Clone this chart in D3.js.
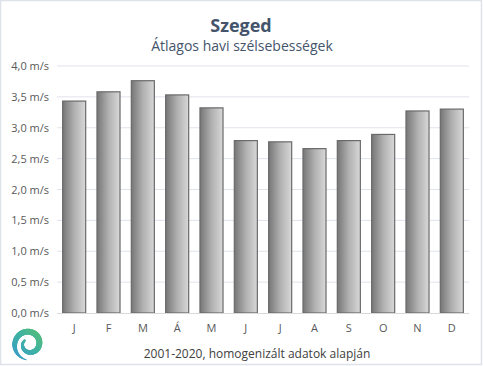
<!DOCTYPE html>
<html><head><meta charset="utf-8">
<script src="https://cdn.jsdelivr.net/npm/d3@7"></script>
<style>
html,body{margin:0;padding:0;background:#fff;}
svg{display:block;}
text{font-family:"Open Sans","DejaVu Sans",sans-serif;}
</style></head>
<body>
<script>
const months = ["J","F","M","Á","M","J","J","A","S","O","N","D"];
const values = [3.44, 3.59, 3.77, 3.54, 3.33, 2.80, 2.78, 2.67, 2.80, 2.90, 3.28, 3.31];
const yTicks = [0,0.5,1,1.5,2,2.5,3,3.5,4];
const title = "Szeged";
const subtitle = "Átlagos havi szélsebességek";
const footer = "2001-2020, homogenizált adatok alapján";

const W = 483, H = 366;
const svg = d3.select("body").append("svg").attr("width", W).attr("height", H);

const defs = svg.append("defs");
const g1 = defs.append("linearGradient").attr("id","barGrad").attr("x1","0").attr("x2","1").attr("y1","0").attr("y2","0");
g1.append("stop").attr("offset","0").attr("stop-color","#767676");
g1.append("stop").attr("offset","0.5").attr("stop-color","#b0b0b0");
g1.append("stop").attr("offset","1").attr("stop-color","#d8d8d8");
const g2 = defs.append("linearGradient").attr("id","logoGrad").attr("gradientUnits","userSpaceOnUse")
  .attr("x1",46).attr("y1",326).attr("x2",12).attr("y2",362);
g2.append("stop").attr("offset","0").attr("stop-color","#62c266");
g2.append("stop").attr("offset","0.5").attr("stop-color","#3eb2a2");
g2.append("stop").attr("offset","1").attr("stop-color","#3a96d4");

// outer border
svg.append("rect").attr("x",0.5).attr("y",0.5).attr("width",W-2).attr("height",H-2)
  .attr("fill","#fff").attr("stroke","#dde2e8").attr("stroke-width",1.5);

const x = d3.scaleBand().domain(d3.range(months.length)).range([57, 469]).paddingInner(0.3).paddingOuter(0.15);
const y = d3.scaleLinear().domain([0,4]).range([313, 66]);

// gridlines
svg.append("g").selectAll("line").data(yTicks.slice(1)).join("line")
  .attr("x1",57).attr("x2",469).attr("y1",d=>y(d)).attr("y2",d=>y(d))
  .attr("stroke","#dfe3ea").attr("stroke-width",1);

// y axis labels
const fmt = d => d3.format(".1f")(d).replace(".", ",") + " m/s";
const yAxis = d3.axisLeft(y).tickValues(yTicks).tickFormat(fmt).tickSize(0).tickPadding(8);
const ya = svg.append("g").attr("transform","translate(57,0)").call(yAxis);
ya.select(".domain").remove();
ya.selectAll("text").attr("fill","#595959").style("font-size","11px").attr("font-family","Open Sans");

// bars
svg.append("g").selectAll("rect").data(values).join("rect")
  .attr("x",(d,i)=>x(i)+0.5).attr("y",d=>y(d)+0.5)
  .attr("width",x.bandwidth()-1).attr("height",d=>y(0)-y(d)-0.5)
  .attr("fill","url(#barGrad)").attr("stroke","#6a6a6a").attr("stroke-width",1.2);

// baseline
svg.append("line").attr("x1",57).attr("x2",469).attr("y1",y(0)+0.5).attr("y2",y(0)+0.5)
  .attr("stroke","#d9d9d9").attr("stroke-width",1);

// x axis labels
const xAxis = d3.axisBottom(x).tickFormat(i=>months[i]).tickSize(0).tickPadding(11);
const xa = svg.append("g").attr("transform",`translate(0,${y(0)})`).call(xAxis);
xa.select(".domain").remove();
xa.selectAll("text").attr("fill","#595959").style("font-size","11px").attr("font-family","Open Sans");

// titles
svg.append("text").attr("x",241).attr("y",32).attr("text-anchor","middle")
  .attr("fill","#44546a").style("font-size","18px").style("font-weight","bold").text(title);
svg.append("text").attr("x",242).attr("y",51).attr("text-anchor","middle")
  .attr("fill","#44546a").style("font-size","14px").text(subtitle);
svg.append("text").attr("x",257).attr("y",358).attr("text-anchor","middle")
  .attr("fill","#404040").style("font-size","12px").text(footer);

// logo spiral (decorative), drawn as short segments of varying width
const cx = 29, cy = 344;
const N = 80;
const spiral = [];
for (let k = 0; k <= N; k++) {
  const t = k / N;
  const th = (100 + t * 480) * Math.PI / 180;
  const r = 16 - t * 10.5;
  spiral.push([cx + r * Math.cos(th), cy + r * Math.sin(th), t]);
}
const logo = svg.append("g");
for (let k = 0; k < N; k++) {
  const a = spiral[k], b = spiral[k + 1];
  const t = a[2];
  const w = t < 0.15 ? 1 + t * 25 : (t < 0.7 ? 4.8 + 1.2 * Math.sin(Math.PI * (t - 0.15) / 0.55) : 4.8 - (t - 0.7) * 9);
  logo.append("line").attr("x1", a[0]).attr("y1", a[1]).attr("x2", b[0]).attr("y2", b[1])
    .attr("stroke", "url(#logoGrad)").attr("stroke-width", w).attr("stroke-linecap", "round");
}
</script>
</body></html>
